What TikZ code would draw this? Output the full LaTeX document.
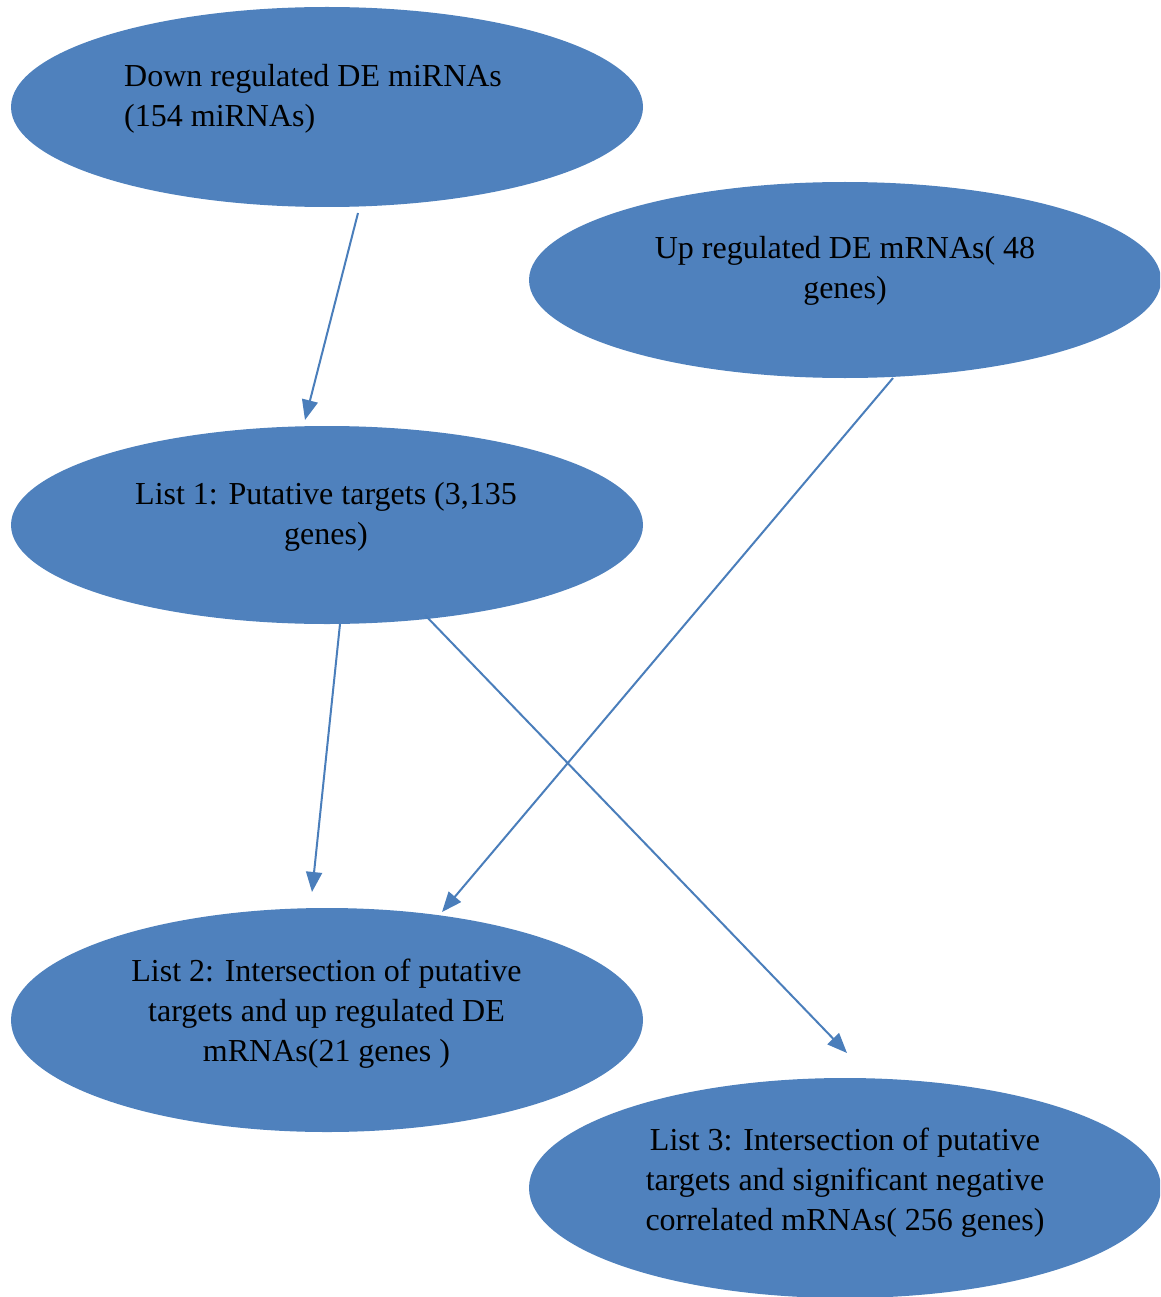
\documentclass[tikz,border=0pt]{standalone}
\usepackage{fontspec}
\setmainfont{Liberation Serif}
\usetikzlibrary{arrows.meta}
\definecolor{ellblue}{HTML}{4F81BD}
\definecolor{arrblue}{HTML}{4A7EBB}
\begin{document}
\begin{tikzpicture}[x=1pt,y=-1pt,
  ell/.style={ellipse, fill=ellblue, draw=none, inner sep=0pt},
  lbl/.style={font=\fontsize{32}{40}\selectfont, inner sep=0pt, text=black},
  conn/.style={draw=arrblue, line width=2pt, -{Triangle[length=20pt,width=16pt]}}]
\useasboundingbox (0,0) rectangle (1160,1297);
\begin{scope}
\clip (0,0) rectangle (1160,1297);
\fill[ellblue] (327,107) ellipse [x radius=316, y radius=100];
\fill[ellblue] (845,280) ellipse [x radius=316, y radius=98];
\fill[ellblue] (327,525) ellipse [x radius=316, y radius=99];
\fill[ellblue] (327,1020) ellipse [x radius=316, y radius=112];
\fill[ellblue] (845,1188) ellipse [x radius=316, y radius=110];
\end{scope}
\node[lbl, anchor=west, align=left] (down) at (124,99) {Down regulated DE miRNAs\\(154 miRNAs)};
\node[lbl, align=center] (up) at (845,271) {Up regulated DE mRNAs( 48\\genes)};
\node[lbl, align=center] (list1) at (326,517) {List 1: Putative targets (3,135\\genes)};
\node[lbl, align=center] (list2) at (326.5,1014) {List 2: Intersection of putative\\targets and up regulated DE\\mRNAs(21 genes )};
\node[lbl, align=center] (list3) at (845,1183) {List 3: Intersection of putative\\targets and significant negative\\correlated mRNAs( 256 genes)};
\coordinate (a1s) at (358,213);
\coordinate (a1e) at (305,420);
\coordinate (a2s) at (893,378);
\coordinate (a2e) at (442,912);
\coordinate (a3s) at (340,624);
\coordinate (a3e) at (312,892);
\coordinate (a4s) at (425,615);
\coordinate (a4e) at (847,1053);
\draw[conn] (a1s) -- (a1e);
\draw[conn] (a2s) -- (a2e);
\draw[conn] (a3s) -- (a3e);
\draw[conn] (a4s) -- (a4e);
\end{tikzpicture}
\end{document}
